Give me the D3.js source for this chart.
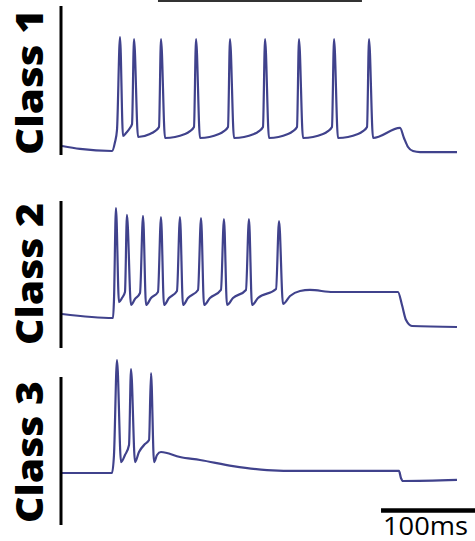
<!DOCTYPE html>
<html>
<head>
<meta charset="utf-8">
<script src="https://cdn.jsdelivr.net/npm/d3@7"></script>
<style>
  html, body { margin: 0; padding: 0; background: #fff; }
  svg { display: block; }
</style>
</head>
<body>
<div id="chart"></div>
<script>
// traces: [time (ms), membrane potential (mV)]
const class1Trace = [
  [0, -65.6], [19.1, -68.2], [53.2, -70], [56.4, -62.1], [58.5, -51.6], [61.7, 30],
  [64.9, -56.8], [68.1, -54.2], [72.3, -49.8], [74.5, -46.3], [76.6, 28.2],
  [80.9, -57.7], [93.6, -55.1], [98.9, -52.5], [103.2, -48.9], [105.3, 28.2],
  [109.6, -58.6], [130.9, -55.1], [136.2, -52.5], [140.4, -48.9], [142.6, 28.2],
  [146.8, -58.6], [167.0, -55.1], [172.3, -52.5], [176.6, -48.9], [178.7, 28.2],
  [183.0, -58.6], [204.3, -55.1], [209.6, -52.5], [213.8, -48.9], [216.0, 28.2],
  [220.2, -58.6], [240.4, -55.1], [245.7, -52.5], [250.0, -48.9], [252.1, 28.2],
  [256.4, -58.6], [277.7, -55.1], [283.0, -52.5], [287.2, -48.9], [289.4, 28.2],
  [293.6, -58.6], [314.9, -55.1], [320.2, -52.5], [324.5, -48.9], [326.6, 28.2],
  [330.9, -58.6], [359.6, -49.8], [363.8, -58.6], [368.1, -66.5], [373.4, -70],
  [380.9, -70.9], [420.2, -70.9]
];
const class2Trace = [
  [0, -66.5], [54.3, -70], [55.3, -54.2], [57.4, 26.5], [60.6, -56.0], [63.8, -52.5],
  [67.0, -47.2], [69.1, 20.4], [73.4, -58.6], [77.7, -53.3], [83.0, -48.1], [86.2, 19.5],
  [89.4, -58.6], [94.7, -52.5], [102.1, -47.2], [105.3, 18.6],
  [108.5, -58.6], [113.8, -52.5], [122.3, -46.3], [125.5, 18.6],
  [128.7, -58.6], [134.0, -52.5], [144.7, -45.4], [147.9, 17.7],
  [151.1, -58.6], [157.4, -52.5], [169.1, -45.4], [172.3, 16.8],
  [175.5, -58.6], [181.9, -52.5], [195.7, -45.4], [198.9, 16.8],
  [202.1, -58.6], [208.5, -52.5], [227.7, -44.6], [230.9, 15.1],
  [235.1, -57.7], [242.6, -50.7], [253.2, -46.3], [263.8, -45.4], [288.3, -47.2],
  [357.4, -47.2], [361.7, -58.6], [366.0, -71.8], [372.3, -77.0], [420.2, -77.9]
];
const class3Trace = [
  [0, -70], [53.2, -70], [55.3, -54.2], [58.5, 29.1], [62.8, -60.4], [67.0, -54.2],
  [71.3, -45.4], [73.4, 21.2], [77.7, -60.4], [81.9, -51.6], [88.3, -44.6], [92.6, -41.1],
  [94.7, 17.7], [97.9, -60.4], [101.1, -54.2], [105.3, -51.6], [125.5, -56.0],
  [146.8, -58.6], [181.9, -63.9], [218.1, -67.4], [253.2, -68.2], [358.5, -68.2],
  [360.6, -74.4], [362.8, -77.0], [420.2, -76.1]
];
const classNames = ["Class 1", "Class 2", "Class 3"];
const traces = [class1Trace, class2Trace, class3Trace];
const stimulusBar = [102.1, 319.1];   // ms
const scaleBarMs = [339.4, 439.4];   // 100 ms
const scaleBarLabel = "100ms";

const width = 475, height = 541;
const traceColor = "#40428c";
// panel layout (resting potential row and label extent)
const panels = [
  { base: 151, top: 6, bottom: 155, textTop: 9, textBottom: 155 },
  { base: 318, top: 201, bottom: 348, textTop: 203, textBottom: 345 },
  { base: 473, top: 377, bottom: 525, textTop: 381, textBottom: 523 }
];

const svg = d3.select("#chart").append("svg")
  .attr("width", width)
  .attr("height", height);

const x = d3.scaleLinear().domain([0, 440]).range([62, 62 + 440 * 0.94]);

panels.forEach((p, i) => {
  const y = d3.scaleLinear().domain([-70, 30]).range([p.base, p.base - 114]);
  const line = d3.line()
    .x(d => x(d[0]))
    .y(d => y(d[1]))
    .curve(d3.curveMonotoneX);

  svg.append("path")
    .datum(traces[i])
    .attr("d", line)
    .attr("fill", "none")
    .attr("stroke", traceColor)
    .attr("stroke-width", 2.2)
    .attr("stroke-linejoin", "round");

  svg.append("line")
    .attr("x1", 61).attr("x2", 61)
    .attr("y1", p.top).attr("y2", p.bottom)
    .attr("stroke", "#000")
    .attr("stroke-width", 3);

  svg.append("text")
    .attr("transform", `translate(43,${p.textBottom}) rotate(-90)`)
    .attr("text-anchor", "start")
    .attr("textLength", p.textBottom - p.textTop)
    .attr("lengthAdjust", "spacingAndGlyphs")
    .style("font-family", "Open Sans")
    .style("font-weight", 800)
    .style("font-size", "37px")
    .attr("fill", "#000")
    .text(classNames[i]);
});

// stimulus bar at top
svg.append("line")
  .attr("x1", x(stimulusBar[0])).attr("x2", x(stimulusBar[1]))
  .attr("y1", 1).attr("y2", 1)
  .attr("stroke", "#333")
  .attr("stroke-width", 2);

// scale bar
svg.append("line")
  .attr("x1", x(scaleBarMs[0])).attr("x2", x(scaleBarMs[1]))
  .attr("y1", 510.5).attr("y2", 510.5)
  .attr("stroke", "#000")
  .attr("stroke-width", 4.5);

svg.append("text")
  .attr("x", 383)
  .attr("y", 535)
  .attr("textLength", 85)
  .attr("lengthAdjust", "spacingAndGlyphs")
  .style("font-family", "Open Sans")
  .style("font-size", "25px")
  .attr("fill", "#000")
  .text(scaleBarLabel);
</script>
</body>
</html>
